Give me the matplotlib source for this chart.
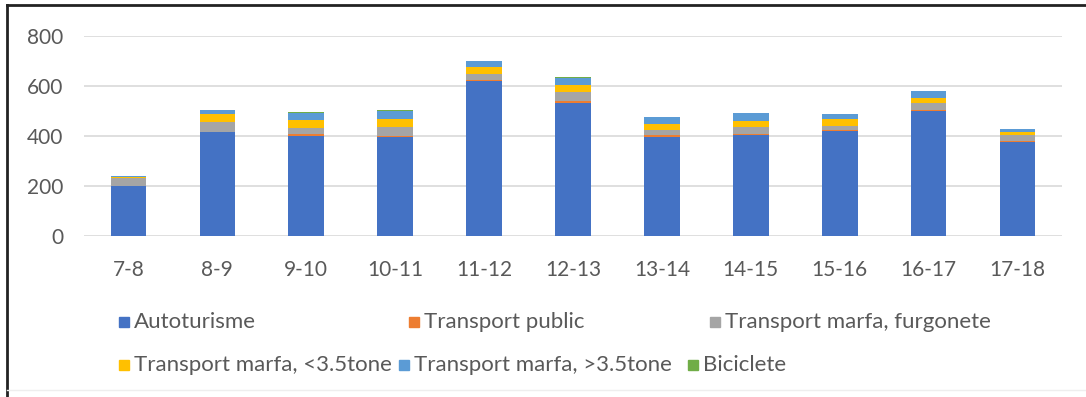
import matplotlib
matplotlib.use("Agg")
import matplotlib.pyplot as plt
from matplotlib.patches import Rectangle
from matplotlib.lines import Line2D
import numpy as np

categories = ["7-8", "8-9", "9-10", "10-11", "11-12", "12-13", "13-14", "14-15", "15-16", "16-17", "17-18"]
autoturisme = [198, 415, 402, 398, 619, 531, 398, 405, 422, 499, 375]
transport_public = [2, 3, 7, 3, 6, 11, 7, 4, 3, 6, 7]
furgonete = [32, 37, 24, 37, 24, 36, 21, 26, 17, 26, 23]
sub_35 = [4, 34, 32, 31, 26, 28, 23, 27, 27, 22, 10]
over_35 = [3, 14, 29, 31, 25, 28, 27, 30, 18, 26, 12]
biciclete = [1, 1, 1, 3, 1, 1, 1, 1, 1, 3, 1]

series_names = ["Autoturisme", "Transport public", "Transport marfa, furgonete",
                "Transport marfa, <3.5tone", "Transport marfa, >3.5tone", "Biciclete"]
series_vals = [autoturisme, transport_public, furgonete, sub_35, over_35, biciclete]
colors = ["#4472C4", "#ED7D31", "#A5A5A5", "#FFC000", "#5B9BD5", "#70AD47"]
yticks = [0, 200, 400, 600, 800]

plt.rcParams['font.family'] = ['Lato', 'DejaVu Sans']
W, H = 1086, 397
fig = plt.figure(figsize=(W / 100, H / 100), dpi=100)
ax = fig.add_axes([84 / W, 1 - 236 / H, 978 / W, 200 / H])

x = np.arange(len(categories))
bottom = np.zeros(len(categories))
for name, vals, c in zip(series_names, series_vals, colors):
    ax.bar(x, vals, width=0.40, bottom=bottom, color=c, label=name, zorder=3)
    bottom += np.array(vals)

ax.set_xlim(-0.5, len(categories) - 0.5)
ax.set_ylim(0, 800)
ax.set_yticks(yticks)
ax.set_xticks(x)
ax.set_xticklabels(categories)
ax.grid(axis='y', color='#D9D9D9', linewidth=1.2, zorder=0)
for s in ax.spines.values():
    s.set_visible(False)
ax.tick_params(axis='both', length=0, labelsize=15, colors='#595959')
ax.tick_params(axis='y', pad=15)
ax.tick_params(axis='x', pad=17)

# legend, laid out like the reference
fs = 16
rows = [
    [(0, 119), (1, 409), (2, 710)],
    [(3, 119), (4, 399), (5, 688)],
]
row_y = [322, 365]
for r, items in enumerate(rows):
    yc = row_y[r]
    for idx, px in items:
        fig.patches.append(Rectangle((px / W, 1 - (yc + 5) / H), 10 / W, 10 / H,
                                     transform=fig.transFigure, color=colors[idx]))
        fig.text((px + 15) / W, 1 - yc / H, series_names[idx], fontsize=fs,
                 color='#595959', va='center', ha='left')

# frame lines
fig.add_artist(Line2D([7 / W, 7 / W], [0, 1 - 5 / H], transform=fig.transFigure, color='#222222', linewidth=2))
fig.add_artist(Line2D([7 / W, 1], [1 - 5 / H, 1 - 5 / H], transform=fig.transFigure, color='#222222', linewidth=2))
fig.add_artist(Line2D([7 / W, 1], [1 - 390 / H, 1 - 390 / H], transform=fig.transFigure, color='#EEEEEE', linewidth=1))

fig.savefig("out.png", dpi=100, facecolor='white')
